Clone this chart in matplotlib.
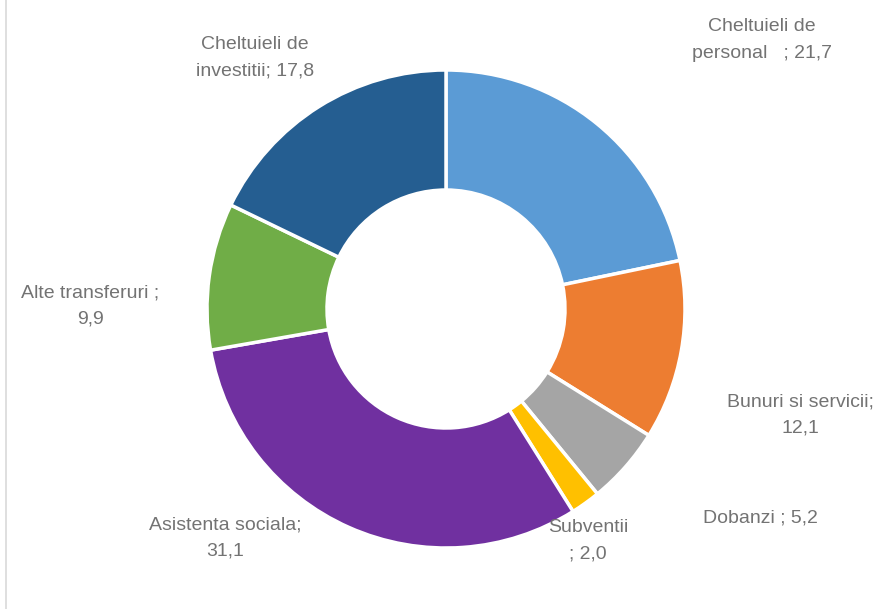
import matplotlib
matplotlib.use('Agg')
import matplotlib.pyplot as plt

plt.rcParams['font.family'] = ['Liberation Sans', 'DejaVu Sans']

# date
categorii = ['Cheltuieli de personal', 'Bunuri si servicii', 'Dobanzi', 'Subventii',
             'Asistenta sociala', 'Alte transferuri', 'Cheltuieli de investitii']
valori = [21.7, 12.1, 5.2, 2.0, 31.1, 9.9, 17.8]
etichete = ['Cheltuieli de\npersonal   ; 21,7', 'Bunuri si servicii;\n12,1', 'Dobanzi ; 5,2',
            'Subventii\n; 2,0', 'Asistenta sociala;\n31,1', 'Alte transferuri ;\n9,9',
            'Cheltuieli de\ninvestitii; 17,8']
culori = ['#5B9BD5', '#ED7D31', '#A5A5A5', '#FFC000', '#7030A0', '#70AD47', '#255E91']

# pozitii etichete (pixeli)
pozitii = [(762, 40), (800, 415), (760, 518), (588, 541), (225, 538), (90, 306), (255, 58)]

W, H = 883, 609
fig = plt.figure(figsize=(W / 100, H / 100), dpi=100)
ax = fig.add_axes([0, 0, 1, 1])
ax.set_xlim(0, W)
ax.set_ylim(0, H)
ax.set_aspect('equal')
ax.axis('off')

ax.pie(valori, colors=culori, startangle=90, counterclock=False,
       center=(446, H - 309), radius=239,
       wedgeprops=dict(width=120, edgecolor='white', linewidth=2.5))

for txt, (x, y) in zip(etichete, pozitii):
    ax.text(x, H - y, txt, ha='center', va='center', fontsize=14,
            color='#737373', linespacing=1.75)

# chenar stanga
ax.plot([6, 6], [0, H], color='#D9D9D9', linewidth=1.2)

ax.set_xlim(0, W)
ax.set_ylim(0, H)
fig.savefig('out.png', dpi=100)
